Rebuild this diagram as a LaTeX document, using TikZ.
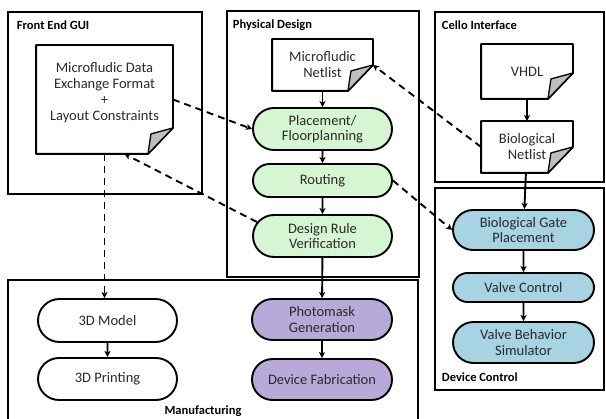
\documentclass[tikz,border=0pt]{standalone}
\usepackage{fontspec}
\setmainfont{Carlito}
\usetikzlibrary{arrows.meta, shapes.misc, calc}
\definecolor{cgreen}{HTML}{D6F5D2}
\definecolor{cblue}{HTML}{A8D3E3}
\definecolor{cpurple}{HTML}{B8AAD8}
\definecolor{cfold}{HTML}{BEBEBE}
\definecolor{ctext}{HTML}{2A2A2A}
\tikzset{
  every picture/.style={line width=1.9pt},
  panel/.style={draw, line width=1.9pt},
  paneltitle/.style={font=\bfseries\fontsize{12.5}{14}\selectfont, anchor=west, inner sep=0pt},
  stage/.style={rounded rectangle, draw, fill=#1, text=ctext, align=center, minimum width=141pt, inner sep=1pt, font=\fontsize{14.5}{15.5}\selectfont},
  stage/.default=white,
  doc/.style={align=center, text=ctext, inner sep=0pt, font=\fontsize{14.5}{16}\selectfont},
  flow/.style={-{Stealth[length=6pt, width=6pt, inset=1.5pt]}},
  xflow/.style={flow, dash pattern=on 7pt off 5pt},
}

\begin{document}
\begin{tikzpicture}[x=1pt, y=-1pt]
  \useasboundingbox (0,0) rectangle (606,419);
  % panels
  \draw[panel] (8,12) rectangle (202,194);
  \draw[panel] (227,11) rectangle (419,277);
  \draw[panel] (435,12) rectangle (604,182);
  \draw[panel] (435,188) rectangle (604,390);
  \draw[panel] (8,419) |- (418,280) -- (418,419);
  \node[paneltitle] (tgui) at (16,25) {Front End GUI};
  \node[paneltitle] (tphys) at (232,25) {Physical Design};
  \node[paneltitle] (tcello) at (441,25) {Cello Interface};
  \node[paneltitle] (tdev) at (441,377) {Device Control};
  \node[paneltitle, anchor=center] (tman) at (203,411) {Manufacturing};
  % documents
  \node[doc, minimum width=135pt, minimum height=107pt, text depth=16pt] (mdef) at (104.5,99.5)
    {Microfludic Data\\Exchange Format\\+\\Layout Constraints};
  \node[doc, minimum width=99pt, minimum height=50pt] (mnet) at (322.5,65) {Microfludic\\Netlist};
  \node[doc, minimum width=90pt, minimum height=53pt] (vhdl) at (527,71.5) {VHDL};
  \node[doc, minimum width=90pt, minimum height=50pt] (bnet) at (527,147) {Biological\\Netlist};
  \foreach \d in {mdef,mnet,vhdl,bnet} {
    \draw[line join=round] (\d.north west) -- (\d.north east) -- ($(\d.south east)+(0,-26)$)
      -- ($(\d.south east)+(-25,0)$) -- (\d.south west) -- cycle;
    \draw[fill=cfold, line width=1.3pt, line join=round] ($(\d.south east)+(0,-26)$)
      -- ($(\d.south east)+(-22,-20)$) -- ($(\d.south east)+(-25,0)$) -- cycle;
  }
  % physical design
  \node[stage=cgreen, minimum height=42pt] (place) at (322.5,129) {Placement/\\Floorplanning};
  \node[stage=cgreen, minimum height=33pt] (route) at (322.5,180.5) {Routing};
  \node[stage=cgreen, minimum height=42pt] (drv) at (322.5,236) {Design Rule\\Verification};
  % device control
  \node[stage=cblue, minimum width=143pt, minimum height=40pt] (bgp) at (523.5,230) {Biological Gate\\Placement};
  \node[stage=cblue, minimum width=143pt, minimum height=29pt] (valve) at (523.5,287.5) {Valve Control};
  \node[stage=cblue, minimum width=143pt, minimum height=41pt] (vbs) at (523.5,342.5) {Valve Behavior\\Simulator};
  % manufacturing
  \node[stage, minimum height=43pt] (model) at (107.5,320.5) {3D Model};
  \node[stage, minimum height=42pt] (print) at (107.5,379) {3D Printing};
  \node[stage=cpurple, minimum width=142pt, minimum height=41pt] (mask) at (322,319.5) {Photomask\\Generation};
  \node[stage=cpurple, minimum width=142pt, minimum height=41pt] (fab) at (322,379.5) {Device Fabrication};
  % flows
  \foreach \a/\b in {mnet/place, place/route, route/drv, drv/mask, mask/fab,
                     vhdl/bnet, bnet/bgp, bgp/valve, valve/vbs, model/print}
    \draw[flow] (\a) -- (\b);
  \draw[xflow] (mdef.east) -- (place.west);
  \draw[xflow] (drv.168) -- ($(mdef.south)+(20,0)$);
  \draw[xflow] (mdef.south) -- (mdef.south |- model.north);
  \draw[xflow] (bnet.west) -- (mnet.east);
  \draw[xflow] (route.east) -- (bgp.west);
\end{tikzpicture}
\end{document}
